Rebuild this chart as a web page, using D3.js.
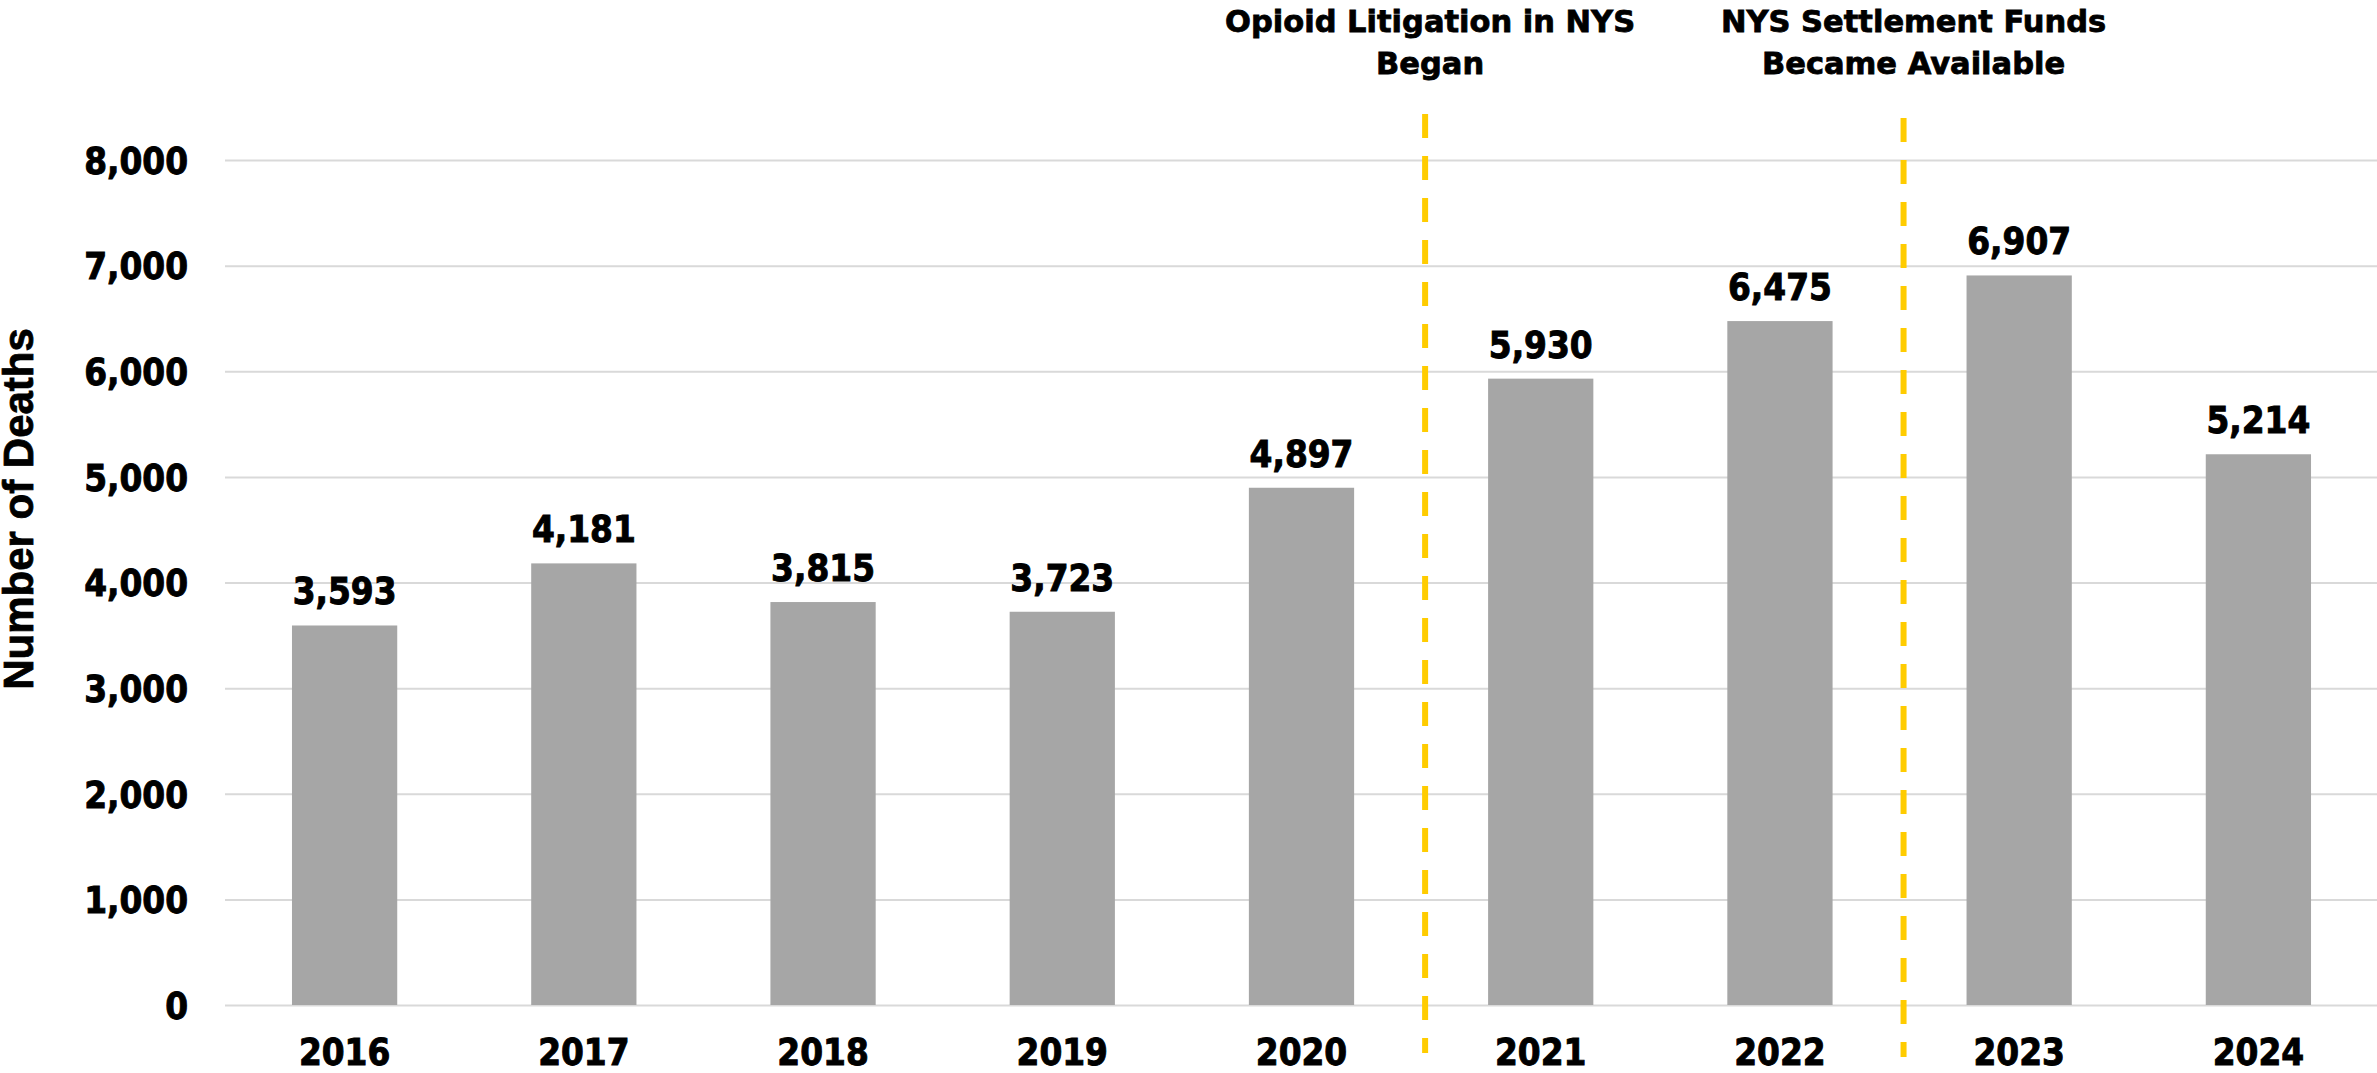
<!DOCTYPE html>
<html>
<head>
<meta charset="utf-8">
<script src="https://cdn.jsdelivr.net/npm/d3@7"></script>
<style>
  html, body { margin: 0; padding: 0; background: #fff; }
  svg { display: block; }
  .num { font-family: "DejaVu Sans Condensed", "DejaVu Sans", sans-serif; font-stretch: condensed; font-weight: bold; font-size: 36.5px; fill: #000; stroke: #000; stroke-width: 0.9px; }
  .note { font-family: "DejaVu Sans", sans-serif; font-weight: bold; font-size: 30.5px; fill: #000; stroke: #000; stroke-width: 0.8px; }
  .ytitle { font-family: "Liberation Sans", Arial, sans-serif; font-weight: bold; font-size: 42px; fill: #000; stroke: #000; stroke-width: 0.8px; }
</style>
</head>
<body>
<script>
// data
const years = ['2016', '2017', '2018', '2019', '2020', '2021', '2022', '2023', '2024'];
const deaths = [3593, 4181, 3815, 3723, 4897, 5930, 6475, 6907, 5214];
const yTicks = [0, 1000, 2000, 3000, 4000, 5000, 6000, 7000, 8000];
// vertical markers: placed between these two years
const markers = [
  { after: '2020', lines: ['Opioid Litigation in NYS', 'Began'] },
  { after: '2022', lines: ['NYS Settlement Funds', 'Became Available'] }
];

const width = 2377;
const height = 1073;
const svg = d3.select('body').append('svg').attr('width', width).attr('height', height);

const x = d3.scaleBand()
  .domain(years)
  .range([225, 2378])
  .paddingInner(0.56)
  .paddingOuter(0.28);

const y = d3.scaleLinear()
  .domain([0, 8000])
  .range([1005, 160]);

const fmt = d3.format(',');

// gridlines
const grid = d3.axisLeft(y).tickValues(yTicks).tickSize(-(width - 225)).tickFormat('');
svg.append('g')
  .attr('transform', 'translate(225,0)')
  .call(grid)
  .call(g => g.select('.domain').remove())
  .call(g => g.selectAll('line').attr('stroke', '#d9d9d9').attr('stroke-width', 2));

// y tick labels
const yAxis = d3.axisLeft(y).tickValues(yTicks).tickSize(0).tickPadding(0).tickFormat(fmt);
svg.append('g')
  .attr('transform', 'translate(188,0)')
  .call(yAxis)
  .call(g => g.select('.domain').remove())
  .call(g => g.selectAll('text')
    .attr('class', 'num')
    .attr('font-family', null).attr('font-size', null)
    .attr('dy', '0.365em'));

// bars
const data = years.map((yr, i) => ({ year: yr, value: deaths[i] }));
svg.append('g').selectAll('rect')
  .data(data)
  .enter().append('rect')
    .attr('x', d => x(d.year))
    .attr('y', d => y(d.value))
    .attr('width', x.bandwidth())
    .attr('height', d => y(0) - y(d.value))
    .attr('fill', '#a6a6a6');

// value labels
svg.append('g').selectAll('text')
  .data(data)
  .enter().append('text')
    .attr('class', 'num')
    .attr('text-anchor', 'middle')
    .attr('x', d => x(d.year) + x.bandwidth() / 2)
    .attr('y', d => y(d.value) - 21)
    .text(d => fmt(d.value));

// x axis labels
const xAxis = d3.axisBottom(x).tickSize(0).tickPadding(0);
svg.append('g')
  .attr('transform', 'translate(0,1065)')
  .call(xAxis)
  .call(g => g.select('.domain').remove())
  .call(g => g.selectAll('text')
    .attr('class', 'num')
    .attr('font-family', null).attr('font-size', null)
    .attr('dy', 0));

// dashed markers with notes
markers.forEach((m, i) => {
  const mx = x(m.after) + x.bandwidth() + x.step() * x.paddingInner() / 2 + 4;
  svg.append('line')
    .attr('x1', mx).attr('x2', mx)
    .attr('y1', 114 + i * 4).attr('y2', 1053 + i * 4)
    .attr('stroke', '#ffcc00')
    .attr('stroke-width', 6)
    .attr('stroke-dasharray', '24 18');
  const t = svg.append('text')
    .attr('class', 'note')
    .attr('text-anchor', 'middle')
    .attr('x', mx + 5 + i * 5)
    .attr('y', 32);
  m.lines.forEach((s, j) => {
    t.append('tspan')
      .attr('x', mx + 5 + i * 5)
      .attr('dy', j === 0 ? 0 : 42)
      .text(s);
  });
});

// y axis title
svg.append('text')
  .attr('class', 'ytitle')
  .attr('text-anchor', 'middle')
  .attr('transform', 'translate(33,509) rotate(-90)')
  .text('Number of Deaths');
</script>
</body>
</html>
